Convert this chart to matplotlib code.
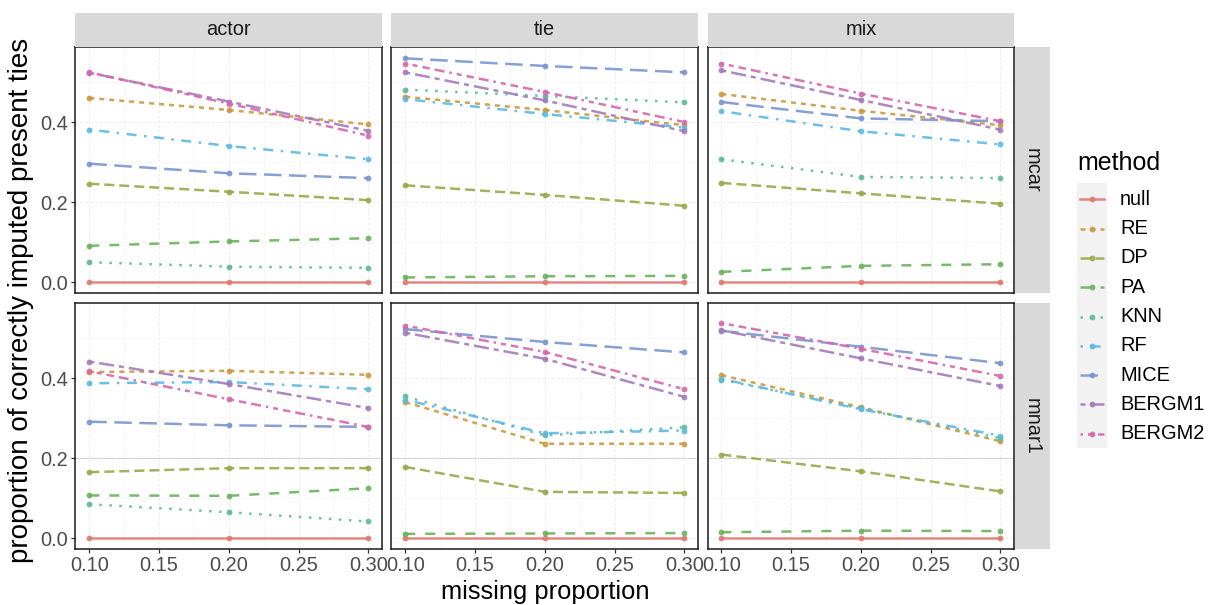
import matplotlib
matplotlib.use('Agg')
import matplotlib.pyplot as plt
from matplotlib.patches import Rectangle
from matplotlib.lines import Line2D

plt.rcParams['font.family'] = ['Liberation Sans', 'DejaVu Sans']

# ---------------- data ----------------
x_vals = [0.10, 0.20, 0.30]
methods = ["null", "RE", "DP", "PA", "KNN", "RF", "MICE", "BERGM1", "BERGM2"]
col_facets = ["actor", "tie", "mix"]
row_facets = ["mcar", "mnar1"]
x_ticks = [0.10, 0.15, 0.20, 0.25, 0.30]
y_ticks = [0.0, 0.2, 0.4]

# values per method (order of `methods`) for each panel
actor_mcar = [[0, 0, 0], [0.460, 0.430, 0.394], [0.246, 0.226, 0.205],
              [0.091, 0.102, 0.110], [0.050, 0.039, 0.036], [0.381, 0.340, 0.307],
              [0.296, 0.272, 0.260], [0.523, 0.451, 0.378], [0.524, 0.446, 0.366]]
tie_mcar = [[0, 0, 0], [0.463, 0.430, 0.392], [0.242, 0.218, 0.191],
            [0.012, 0.015, 0.016], [0.481, 0.465, 0.449], [0.457, 0.420, 0.386],
            [0.559, 0.540, 0.524], [0.524, 0.454, 0.377], [0.546, 0.475, 0.400]]
mix_mcar = [[0, 0, 0], [0.470, 0.428, 0.392], [0.248, 0.222, 0.196],
            [0.026, 0.041, 0.045], [0.307, 0.263, 0.260], [0.427, 0.377, 0.344],
            [0.450, 0.409, 0.402], [0.529, 0.455, 0.381], [0.546, 0.471, 0.402]]
actor_mnar1 = [[0, 0, 0], [0.415, 0.418, 0.408], [0.165, 0.175, 0.175],
               [0.107, 0.106, 0.125], [0.085, 0.065, 0.042], [0.387, 0.390, 0.372],
               [0.291, 0.282, 0.278], [0.441, 0.385, 0.325], [0.417, 0.347, 0.278]]
tie_mnar1 = [[0, 0, 0], [0.340, 0.236, 0.236], [0.178, 0.116, 0.113],
             [0.011, 0.012, 0.013], [0.354, 0.257, 0.277], [0.346, 0.262, 0.269],
             [0.522, 0.490, 0.464], [0.513, 0.448, 0.353], [0.531, 0.465, 0.372]]
mix_mnar1 = [[0, 0, 0], [0.407, 0.327, 0.242], [0.209, 0.167, 0.117],
             [0.015, 0.019, 0.018], [0.396, 0.324, 0.250], [0.398, 0.322, 0.256],
             [0.518, 0.478, 0.437], [0.519, 0.449, 0.380], [0.537, 0.473, 0.405]]

panels = {("mcar", "actor"): actor_mcar, ("mcar", "tie"): tie_mcar, ("mcar", "mix"): mix_mcar,
          ("mnar1", "actor"): actor_mnar1, ("mnar1", "tie"): tie_mnar1, ("mnar1", "mix"): mix_mnar1}

# ---------------- styles ----------------
colors = ["#DF7A72", "#C89A42", "#9AA84A", "#6AB25E", "#5DBB98",
          "#5CB8E3", "#7B95CF", "#A47BBB", "#D568AC"]
dashes = [None, (2, 2), (4, 2), (4, 4), (1, 3), (1, 3, 4, 3), (7, 3), (2, 2, 6, 2),
          (1, 2, 2, 2, 3, 2, 4, 2)]
LW = 1.8
MS = 4.2
ALPHA = 0.9

W, H = 1208, 605
fig = plt.figure(figsize=(W / 100, H / 100), dpi=100)


def ax_px(x0, y0, x1, y1):
    return fig.add_axes([x0 / W, 1 - y1 / H, (x1 - x0) / W, (y1 - y0) / H])


col_px = [(75.4, 382.3), (391.3, 698.2), (707.5, 1014.3)]
row_px = [(47.3, 293.3), (303.3, 549.3)]
strip_top = (13.3, 46.6)
strip_right = (1015.3, 1050.0)
GRID = "#EEEEEE"
TXT = 14.4

for ri, rname in enumerate(row_facets):
    for ci, cname in enumerate(col_facets):
        x0, x1 = col_px[ci]
        y0, y1 = row_px[ri]
        ax = ax_px(x0, y0, x1, y1)
        ax.set_xlim(0.09, 0.31)
        ax.set_ylim(-0.0275, 0.5865)
        # grid
        for gx in [0.10, 0.125, 0.15, 0.175, 0.20, 0.225, 0.25, 0.275, 0.30]:
            major = gx in x_ticks
            ax.axvline(gx, color=GRID, lw=0.7 if major else 0.45, ls=(0, (3, 2)), zorder=0)
        for gy in [0.0, 0.1, 0.2, 0.3, 0.4, 0.5]:
            major = gy in y_ticks
            ax.axhline(gy, color=GRID, lw=0.7 if major else 0.45, ls=(0, (3, 2)), zorder=0)
        if ri == 1:
            ax.axhline(0.2, color="#AAAAAA", lw=0.6, ls=(0, (1, 1)), zorder=1)
        vals = panels[(rname, cname)]
        for mi, m in enumerate(methods):
            ln, = ax.plot(x_vals, vals[mi], color=colors[mi], lw=LW, alpha=ALPHA,
                          marker="o", ms=MS, markeredgewidth=0, zorder=3 + mi * 0.01)
            if dashes[mi] is not None:
                ln.set_linestyle((0, dashes[mi]))
        for s in ax.spines.values():
            s.set_color("#1A1A1A")
            s.set_linewidth(1.1)
        ax.set_xticks(x_ticks)
        ax.set_yticks(y_ticks)
        ax.tick_params(direction="out", length=3.0, width=0.9, color="#333333",
                       labelcolor="#4D4D4D", labelsize=TXT, pad=2.0)
        if ri == 1:
            ax.set_xticklabels(["%.2f" % t for t in x_ticks])
        else:
            ax.tick_params(axis="x", length=0, labelbottom=False)
        if ci == 0:
            ax.set_yticklabels(["%.1f" % t for t in y_ticks])
        else:
            ax.tick_params(axis="y", length=0, labelleft=False)

        # top strips
        if ri == 0:
            sax = ax_px(x0, strip_top[0], x1, strip_top[1])
            sax.set_facecolor("#D9D9D9")
            sax.set_xticks([]); sax.set_yticks([])
            for s in sax.spines.values():
                s.set_visible(False)
            sax.text(0.5, 0.5, cname, ha="center", va="center", fontsize=TXT,
                     color="#1A1A1A", transform=sax.transAxes)
    # right strips
    y0, y1 = row_px[ri]
    rax = ax_px(strip_right[0], y0, strip_right[1], y1)
    rax.set_facecolor("#D9D9D9")
    rax.set_xticks([]); rax.set_yticks([])
    for s in rax.spines.values():
        s.set_visible(False)
    rax.text(0.5, 0.5, rname, ha="center", va="center", rotation=-90, fontsize=TXT,
             color="#1A1A1A", transform=rax.transAxes)

# axis titles
fig.text(544.8 / W, 1 - 592 / H, "missing proportion", ha="center", va="center",
         fontsize=18.4, color="black")
fig.text(21 / W, 1 - 300 / H, "proportion of correctly imputed present ties",
         ha="center", va="center", rotation=90, fontsize=20, color="black")

# legend
lax = fig.add_axes([0, 0, 1, 1])
lax.set_xlim(0, W)
lax.set_ylim(H, 0)
lax.axis("off")
lax.patch.set_alpha(0)
lax.add_patch(Rectangle((1077, 183.3), 30, 265, facecolor="#F2F2F2", edgecolor="none"))
lax.text(1077, 163, "method", ha="left", va="center", fontsize=18, color="black")
for mi, m in enumerate(methods):
    yy = 199.3 + mi * 29.3
    ln = Line2D([1080, 1104], [yy, yy], color=colors[mi], lw=LW, alpha=ALPHA)
    if dashes[mi] is not None:
        ln.set_linestyle((0, dashes[mi]))
    lax.add_line(ln)
    lax.plot([1092], [yy], marker="o", ms=MS, color=colors[mi], markeredgewidth=0, alpha=ALPHA)
    lax.text(1120, yy, m, ha="left", va="center", fontsize=TXT, color="black")

fig.savefig("out.png", dpi=100)
